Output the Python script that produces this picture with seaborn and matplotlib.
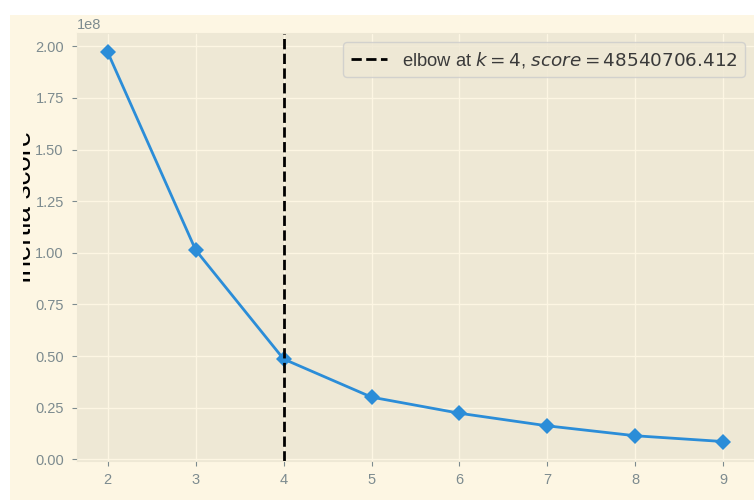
import matplotlib
matplotlib.use("Agg")
import matplotlib.pyplot as plt
import seaborn as sns
import pandas as pd
from matplotlib.patches import Rectangle
from matplotlib.transforms import Bbox

# Elbow-method data: inertia for each number of clusters k
k_values = [2, 3, 4, 5, 6, 7, 8, 9]
inertia = [197000000, 101300000, 48540706.412, 30100000, 22300000, 16200000, 11400000, 8600000]
elbow_k = 4
elbow_score = 48540706.412

df = pd.DataFrame({"k": k_values, "inertia": inertia})

plt.style.use("Solarize_Light2")
plt.rcParams["font.family"] = ["Liberation Sans", "DejaVu Sans"]
plt.rcParams["mathtext.fontset"] = "dejavusans"
line_color = "#2b8dd8"
tick_color = "#7d8b8f"

fig = plt.figure(figsize=(7.54, 5.0), dpi=100)
fig.patch.set_facecolor("white")
# cream canvas behind the axes
fig.patches.append(Rectangle((10 / 754, 0), 1 - 10 / 754, 485 / 500,
                             transform=fig.transFigure, facecolor="#fdf6e3",
                             edgecolor="none", zorder=-10))

ax = fig.add_axes([77 / 754, 39 / 500, 677 / 754, 428 / 500])

sns.lineplot(data=df, x="k", y="inertia", ax=ax, color=line_color,
             marker="D", markersize=8, markeredgewidth=0, linewidth=2)

ax.axvline(elbow_k, color="black", linestyle="--", linewidth=2,
           label=f"elbow at $k={elbow_k}$, $score={elbow_score:0.3f}$")

ax.set_xticks(k_values)
ax.tick_params(labelsize=10.5, colors=tick_color)
ax.tick_params(axis="y", pad=6)
ax.tick_params(axis="x", pad=5.5)
ax.set_xlabel("k", fontsize=20, color="black", labelpad=17)
ax.set_ylabel("")
ax.yaxis.get_offset_text().set_fontsize(10.5)
ax.yaxis.get_offset_text().set_color(tick_color)

leg = ax.legend(loc="upper right", fontsize=13.2)
for t in leg.get_texts():
    t.set_color("#3a3a3a")

# rotated axis title on the left edge, partly hidden
ylab = fig.text(37 / 754, 1 - 207 / 500, "Inertia score", rotation=90,
                fontsize=20, color="black", ha="right", va="center")
ylab.set_clip_box(Bbox.from_extents(23, 0, 754, 500))
ylab.set_clip_on(True)

fig.savefig("out.png", dpi=100, facecolor=fig.get_facecolor())
